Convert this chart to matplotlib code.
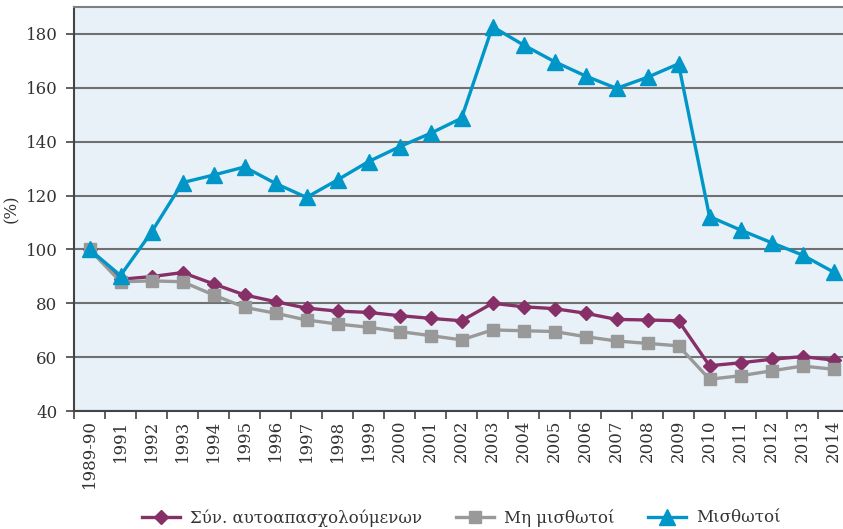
import numpy as np
import matplotlib.pyplot as plt

# Categories (x axis)
years = ['1989-90'] + [str(y) for y in range(1991, 2015)]

# Σύν. αυτοαπασχολούμενων
self_emp = [100, 88.9, 89.9, 91.4, 87.2, 83.1, 80.6, 78.2, 77.1, 76.6, 75.4, 74.4, 73.5,
            80.0, 78.7, 78.0, 76.3, 74.0, 73.8, 73.5, 56.8, 57.9, 59.2, 60.2, 58.9]
# Μη μισθωτοί
non_wage = [100, 88.0, 88.3, 88.0, 83.1, 78.5, 76.3, 73.8, 72.3, 71.1, 69.5, 68.0, 66.4,
            70.1, 69.8, 69.5, 67.6, 66.0, 65.1, 64.2, 51.8, 53.1, 54.9, 56.7, 55.5]
# Μισθωτοί
wage = [100, 90.3, 106.4, 124.8, 127.6, 130.6, 124.5, 119.3, 125.8, 132.6, 138.1, 143.1, 148.7,
        182.7, 175.9, 169.7, 164.4, 159.8, 163.9, 168.9, 112.2, 107.2, 102.5, 97.9, 91.6]

plt.rcParams['font.family'] = ['DejaVu Serif']
fs = 12

fig = plt.figure(figsize=(8.43, 5.29), dpi=100)
ax = fig.add_axes([74 / 843, 118 / 529, 775 / 843, 404 / 529])
ax.set_facecolor('#e8f1f7')

x = np.arange(len(years))
ax.plot(x, self_emp, color='#873067', lw=2.4, marker='D', ms=7,
        label='Σύν. αυτοαπασχολούμενων', zorder=3)
ax.plot(x, non_wage, color='#999999', lw=2.4, marker='s', ms=9,
        label='Μη μισθωτοί', zorder=3)
ax.plot(x, wage, color='#0096c8', lw=2.4, marker='^', ms=11,
        label='Μισθωτοί', zorder=4)

ax.set_xlim(-0.5, len(years) - 0.5)
ax.set_ylim(40, 190)
ax.set_yticks(np.arange(40, 181, 20))
ax.grid(axis='y', color='#707070', lw=1.5)
ax.set_axisbelow(True)

ax.set_xticks(x)
ax.set_xticklabels(years, rotation=90, fontsize=fs, color='#333333')
ax.set_xticks(np.arange(-0.5, len(years), 1), minor=True)
ax.tick_params(axis='x', which='major', length=0, pad=6)
ax.tick_params(axis='x', which='minor', length=6, width=1.2, color='#444444')
ax.tick_params(axis='y', length=6, width=1.2, pad=6, color='#444444', labelsize=fs,
               labelcolor='#333333')

for side in ['left', 'bottom']:
    ax.spines[side].set_color('#444444')
    ax.spines[side].set_linewidth(1.5)
ax.spines['top'].set_color('#808080')
ax.spines['top'].set_linewidth(1.5)
ax.spines['right'].set_visible(False)

ax.set_ylabel('(%)', fontsize=fs, color='#333333', labelpad=4)

ax.legend(loc='center', bbox_to_anchor=(0.5, -0.265), ncol=3, frameon=False,
          fontsize=fs, handlelength=2.3, handletextpad=0.6, columnspacing=2.0,
          labelcolor='#333333')

fig.savefig('out.png', dpi=100)
